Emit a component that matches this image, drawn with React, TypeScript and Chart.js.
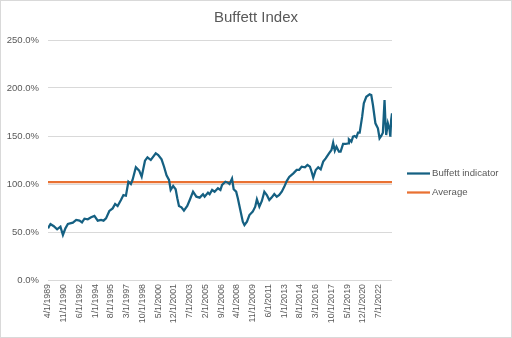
import React, { useEffect, useRef } from 'react';
import { Chart, registerables } from 'chart.js';

Chart.register(...registerables);

const TITLE = 'Buffett Index';
const SERIES_LABEL = 'Buffett indicator';
const AVERAGE_LABEL = 'Average';
const AVERAGE_VALUE = 101.9;

const dates: string[] = [
  '1989-04', '1989-07', '1989-11', '1990-03', '1990-07', '1990-10', '1991-01', '1991-04', '1991-10', '1992-02',
  '1992-06', '1992-09', '1992-12', '1993-04', '1993-08', '1993-12', '1994-04', '1994-08', '1994-11', '1995-02',
  '1995-06', '1995-10', '1996-01', '1996-04', '1996-08', '1996-11', '1997-02', '1997-05', '1997-08', '1997-10',
  '1998-02', '1998-06', '1998-09', '1999-01', '1999-04', '1999-08', '1999-11', '2000-02', '2000-05', '2000-09',
  '2000-12', '2001-03', '2001-06', '2001-08', '2001-11', '2002-02', '2002-04', '2002-06', '2002-09', '2002-12',
  '2003-04', '2003-07', '2003-11', '2004-03', '2004-07', '2004-11', '2005-01', '2005-05', '2005-07', '2005-10',
  '2006-01', '2006-05', '2006-08', '2006-10', '2007-02', '2007-05', '2007-07', '2007-10', '2007-12', '2008-03',
  '2008-05', '2008-08', '2008-11', '2009-01', '2009-04', '2009-07', '2009-11', '2010-02', '2010-04', '2010-07',
  '2010-10', '2011-01', '2011-04', '2011-07', '2011-10', '2012-01', '2012-04', '2012-07', '2012-10', '2013-01',
  '2013-04', '2013-07', '2013-12', '2014-04', '2014-07', '2014-10', '2015-02', '2015-05', '2015-08', '2015-10',
  '2015-12', '2016-03', '2016-06', '2016-09', '2016-12', '2017-03', '2017-07', '2017-10', '2017-12', '2018-02',
  '2018-04', '2018-07', '2018-09', '2018-12', '2019-03', '2019-06', '2019-07', '2019-10', '2019-12', '2020-02',
  '2020-04', '2020-06', '2020-08', '2020-11', '2021-01', '2021-04', '2021-08', '2021-10', '2021-12', '2022-03',
  '2022-06', '2022-08', '2022-10', '2022-12', '2023-02', '2023-03', '2023-04', '2023-06', '2023-08', '2023-09',
  '2023-10', '2023-11',
];

const values: number[] = [
  53.8, 58.3, 56.0, 52.8, 55.5, 46.9, 53.8, 58.3, 59.7, 62.5,
  61.8, 60.0, 63.9, 63.2, 65.3, 66.7, 61.8, 62.5, 61.8, 64.2,
  71.9, 74.6, 79.2, 77.0, 83.3, 88.5, 87.8, 102.4, 100.0, 104.2,
  117.4, 113.9, 107.6, 124.3, 127.8, 125.0, 128.5, 131.9, 130.2, 125.7,
  118.0, 109.0, 104.2, 93.8, 97.9, 94.5, 85.1, 77.1, 75.7, 72.2,
  77.1, 83.3, 92.0, 86.8, 85.8, 89.3, 86.8, 91.0, 89.3, 93.8,
  92.0, 95.5, 93.8, 99.0, 102.4, 101.4, 100.0, 105.6, 94.5, 92.0,
  85.1, 72.9, 60.8, 57.3, 60.8, 67.7, 71.2, 76.4, 84.0, 76.4,
  82.3, 92.0, 88.5, 83.3, 86.1, 89.6, 86.8, 88.5, 92.0, 97.0,
  103.0, 107.3, 111.1, 114.6, 114.6, 118.1, 117.4, 119.8, 118.1, 112.8,
  106.6, 114.6, 117.4, 115.3, 123.3, 126.7, 131.9, 135.4, 143.0, 134.7,
  138.9, 133.7, 133.7, 141.7, 141.7, 142.4, 146.5, 144.1, 149.3, 150.0,
  148.6, 153.5, 153.5, 170.1, 184.0, 190.9, 193.4, 192.7, 182.3, 163.2,
  158.0, 147.6, 150.0, 153.5, 187.5, 166.7, 151.0, 163.2, 157.0, 149.3,
  166.7, 173.6,
];

const xTickLabels: string[] = [
  '4/1/1989', '11/1/1990', '6/1/1992', '1/1/1994', '8/1/1995', '3/1/1997', '10/1/1998', '5/1/2000',
  '12/1/2001', '7/1/2003', '2/1/2005', '9/1/2006', '4/1/2008', '11/1/2009', '6/1/2011', '1/1/2013',
  '8/1/2014', '3/1/2016', '10/1/2017', '5/1/2019', '12/1/2020', '7/1/2022',
];

const yTickValues: number[] = [0, 50, 100, 150, 200, 250];

const BASE_YEAR = 1989;
const BASE_MONTH = 4;

function monthIndexFromIso(d: string): number {
  const [y, m] = d.split('-').map(Number);
  return (y - BASE_YEAR) * 12 + (m - BASE_MONTH);
}
function monthIndexFromLabel(l: string): number {
  const [m, , y] = l.split('/').map(Number);
  return (y - BASE_YEAR) * 12 + (m - BASE_MONTH);
}

const FONT = '"Liberation Sans", Arial, sans-serif';
const TEXT_COLOR = '#595959';
const GRID_COLOR = '#d9d9d9';

const chromePlugin = {
  id: 'chrome',
  beforeDraw(chart: any) {
    const ctx = chart.ctx;
    ctx.save();
    ctx.fillStyle = '#ffffff';
    ctx.fillRect(0, 0, chart.width, chart.height);
    ctx.strokeStyle = GRID_COLOR;
    ctx.lineWidth = 1;
    ctx.strokeRect(0.5, 0.5, chart.width - 1, chart.height - 1);
    ctx.restore();
  },
  afterDraw(chart: any) {
    const ctx = chart.ctx;
    const x0 = 407;
    const y0 = 173.5;
    const gap = 19;
    chart.data.datasets.forEach((ds: any, i: number) => {
      const y = y0 + i * gap;
      ctx.save();
      ctx.strokeStyle = ds.borderColor;
      ctx.lineWidth = ds.borderWidth;
      ctx.beginPath();
      ctx.moveTo(x0, y);
      ctx.lineTo(x0 + 23, y);
      ctx.stroke();
      ctx.fillStyle = TEXT_COLOR;
      ctx.font = `9.6px ${FONT}`;
      ctx.textBaseline = 'middle';
      ctx.textAlign = 'left';
      ctx.fillText(ds.label, x0 + 25, y);
      ctx.restore();
    });
  },
};

export default function App() {
  const canvasRef = useRef<HTMLCanvasElement | null>(null);

  useEffect(() => {
    document.body.style.margin = '0';
    const canvas = canvasRef.current;
    if (!canvas) return;
    const points = dates.map((d, i) => ({ x: monthIndexFromIso(d), y: values[i] }));
    const xMin = points[0].x;
    const xMax = points[points.length - 1].x;
    const avgPoints = [
      { x: xMin, y: AVERAGE_VALUE },
      { x: xMax, y: AVERAGE_VALUE },
    ];
    const tickPositions = xTickLabels.map(monthIndexFromLabel);

    const chart = new Chart(canvas, {
      type: 'line',
      data: {
        datasets: [
          {
            label: SERIES_LABEL,
            data: points,
            borderColor: '#156082',
            borderWidth: 2.25,
            pointRadius: 0,
            tension: 0,
          },
          {
            label: AVERAGE_LABEL,
            data: avgPoints,
            borderColor: '#E97132',
            borderWidth: 2.25,
            pointRadius: 0,
            tension: 0,
          },
        ],
      },
      plugins: [chromePlugin],
      options: {
        responsive: false,
        animation: false,
        devicePixelRatio: 1,
        layout: { padding: 0 },
        plugins: {
          legend: { display: false },
          tooltip: { enabled: false },
          title: {
            display: true,
            text: TITLE,
            color: TEXT_COLOR,
            font: { family: FONT, size: 15, weight: 'normal' },
            padding: { top: 9, bottom: 13 },
          },
        },
        scales: {
          x: {
            type: 'linear',
            min: xMin,
            max: xMax,
            grid: { display: false, drawTicks: false },
            border: { display: false },
            afterBuildTicks: (scale: any) => {
              scale.ticks = tickPositions.map((v) => ({ value: v }));
            },
            afterFit: (scale: any) => {
              scale.height = 58;
            },
            ticks: {
              autoSkip: false,
              maxRotation: 90,
              minRotation: 90,
              padding: 4,
              color: TEXT_COLOR,
              font: { family: FONT, size: 8.8 },
              callback: (v: any) => {
                const idx = tickPositions.indexOf(Number(v));
                return idx >= 0 ? xTickLabels[idx] : '';
              },
            },
          },
          y: {
            min: 0,
            max: 250,
            afterBuildTicks: (scale: any) => {
              scale.ticks = yTickValues.map((v) => ({ value: v }));
            },
            afterFit: (scale: any) => {
              scale.width = 48;
            },
            grid: { color: GRID_COLOR, lineWidth: 1, drawTicks: false },
            border: { display: false },
            ticks: {
              padding: 9,
              color: TEXT_COLOR,
              font: { family: FONT, size: 9.5 },
              callback: (v: any) => `${Number(v).toFixed(1)}%`,
            },
          },
          legendSpace: {
            type: 'linear',
            position: 'right',
            display: true,
            grid: { display: false, drawTicks: false },
            border: { display: false },
            ticks: { display: false },
            afterFit: (scale: any) => {
              scale.width = 120;
            },
          },
        },
      },
    });
    return () => chart.destroy();
  }, []);

  return (
    <div style={{ width: 512, height: 338 }}>
      <canvas ref={canvasRef} width={512} height={338} style={{ display: 'block' }} />
    </div>
  );
}
